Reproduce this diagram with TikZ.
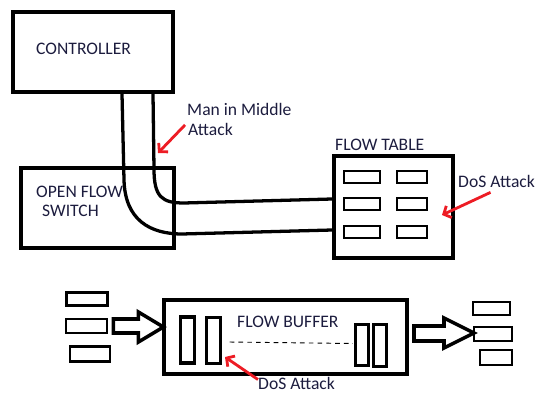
\documentclass[tikz,border=0pt]{standalone}
\usepackage{fontspec}
\setmainfont{Carlito}
\usepackage{tikz}
\usetikzlibrary{arrows.meta, positioning, calc}
\definecolor{inkred}{RGB}{237,28,36}
\definecolor{inktext}{RGB}{28,28,62}

\begin{document}
\begin{tikzpicture}[
  x=0.03cm, y=-0.03cm,
  every node/.style = {font=\fontsize{15}{17}\selectfont, text=inktext},
  box/.style   = {rectangle, draw, line width=3.4pt, inner sep=0pt},
  slot/.style  = {rectangle, draw, line width=2.4pt, inner sep=0pt,
                  minimum width=#1, minimum height=0.36cm},
  slot/.default = 1.1cm,
  bar/.style   = {rectangle, draw, line width=2.6pt, inner sep=0pt,
                  minimum width=0.4cm, minimum height=#1},
  cable/.style = {line width=2.8pt, line cap=round},
  bigarrow/.style = {line width=3pt, line join=miter},
  attack/.style = {draw=inkred, line width=2.4pt,
                   -{Straight Barb[length=5pt, width=11pt]}},
  lbl/.style   = {anchor=base west, inner sep=0pt}
]
\useasboundingbox (0,0) rectangle (540,392);

%% -- top half: controller, switch, flow table --
\node[box, minimum width=4.8cm,  minimum height=2.4cm]  (ctrl)  at (93,52)    {};
\node[box, minimum width=4.59cm, minimum height=2.4cm]  (osw)   at (97.5,208) {};
\node[box, minimum width=3.57cm, minimum height=3.06cm] (table) at (393.5,207) {};

\node[lbl] (ctrltxt) at (36,54)   {CONTROLLER};
\node[lbl] (oswtxt)  at (36,197)  {OPEN FLOW};
\node[lbl] (oswtxtb) at (42,216)  {SWITCH};
\node[lbl] (tabtxt)  at (335,150) {FLOW TABLE};

% flow entries
\foreach \yy [count=\r] in {177, 204, 232} {
  \node[slot=1.08cm] (tl\r) at (362,\yy) {};
  \node[slot=0.9cm]  (tr\r) at (412,\yy) {};
}

% secure channel cables
\draw[cable] ($(ctrl.south)+(29,0)$) -- ++(2,86)
  .. controls +(1,40) and +(-32,0) .. ++(58,54) -- ($(table.west)+(0,23)$);
\draw[cable] ($(ctrl.south)+(60,0)$) -- ++(1,75)
  .. controls +(0,28) and +(-22,0) .. ++(30,34) -- ($(table.west)+(0,-8)$);

% attacks
\node[lbl] (mitm)  at (187,115) {Man in Middle};
\node[lbl] (mitmb) at (188,135) {Attack};
\node[lbl] (dosa)  at (458,187) {DoS Attack};
\coordinate (mitmhit) at (158,153);
\coordinate (dosahit) at (442,215);
\draw[attack] ($(mitmb.west)+(-3,-4)$) -- (mitmhit);
\draw[attack] ($(dosa.south)+(-6,5)$) -- (dosahit);

%% -- bottom half: flow buffer --
\node[box, minimum width=7.29cm, minimum height=2.22cm] (buf) at (285.5,337) {};
\node[lbl] (buftxt) at (237,327) {FLOW BUFFER};

\node[bar=1.38cm] (lb1) at (187.5,340) {};
\node[bar=1.38cm] (lb2) at (213.5,340.5) {};
\node[bar=1.22cm] (rb1) at (362,345) {};
\node[bar=1.26cm] (rb2) at (380,345.5) {};
\draw[line width=0.8pt, dash pattern=on 4pt off 3.5pt]
  ($(lb2.east)+(8,1.5)$) -- ($(rb1.west)+(-1,-1.5)$);

% incoming and outgoing flows
\node[slot=1.23cm, minimum height=0.39cm] (in1) at (87,299) {};
\node[slot=1.23cm, minimum height=0.42cm] (in2) at (86.5,326) {};
\node[slot=1.2cm,  minimum height=0.45cm] (in3) at (90,354) {};
\node[slot=1.11cm, minimum height=0.39cm] (out1) at (491.5,308.5) {};
\node[slot=1.14cm, minimum height=0.42cm] (out2) at (493,334) {};
\node[slot=0.96cm, minimum height=0.45cm] (out3) at (496,357.5) {};

\draw[bigarrow] ($(in2.east)+(5,-7)$) -- ++(25,0) -- ++(0,-7) -- ++(25,15)
  -- ++(-25,15) -- ++(0,-9) -- ++(-25,0) -- cycle;
\draw[bigarrow] ($(buf.east)+(5,-11)$) -- ++(30,0) -- ++(0,-8) -- ++(30,15)
  -- ++(-30,15) -- ++(0,-7) -- ++(-30,0) -- cycle;

\node[lbl] (dosb) at (258,389) {DoS Attack};
\coordinate (dosbhit) at (225,357);
\draw[attack] ($(dosb.north west)+(0,3)$) -- (dosbhit);

\end{tikzpicture}
\end{document}
